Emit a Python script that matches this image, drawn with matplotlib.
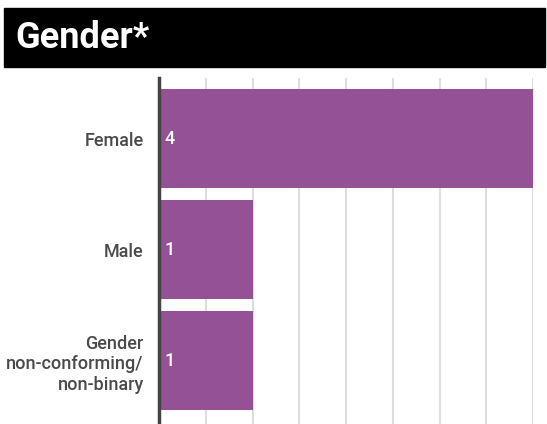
import matplotlib.pyplot as plt
from matplotlib.patches import Rectangle

categories = ["Female", "Male", "Gender\nnon-conforming/\nnon-binary"]
counts = [4, 1, 1]
title = "Gender*"

plt.rcParams['font.family'] = ['Roboto', 'DejaVu Sans']

fig = plt.figure(figsize=(5.47, 4.24), dpi=100)

# black title band
fig.patches.append(Rectangle((4 / 547, 1 - 67 / 424), 541 / 547, 59 / 424,
                             transform=fig.transFigure, color='black', zorder=0))
fig.text(15 / 547, 1 - 38 / 424, title, color='white', fontsize=26,
         fontweight='bold', va='center', ha='left')

ax = fig.add_axes([159 / 547, 0, (533 - 159) / 547, (424 - 78) / 424])
pos = list(range(len(categories)))
ax.barh(pos, counts, height=0.89, color='#955196', zorder=2)
for p, c in zip(pos, counts):
    ax.text(0.055, p, str(c), color='white', fontsize=13, fontweight='medium',
            va='center', ha='left', zorder=3)

ax.set_xlim(0, 4)
ax.set_ylim(2.568, -0.545)
ax.set_xticks([i * 0.5 for i in range(9)])
ax.set_xticklabels([])
ax.tick_params(axis='x', length=0)
ax.grid(axis='x', color='#dddddd', linewidth=1.5, zorder=1)
ax.set_yticks(pos)
ax.set_yticklabels(categories, fontsize=13, color='#4a4a4a', fontweight='medium',
                   linespacing=1.18)
ax.tick_params(axis='y', length=0, pad=11)
for s in ['top', 'right', 'bottom']:
    ax.spines[s].set_visible(False)
ax.spines['left'].set_color('#444444')
ax.spines['left'].set_linewidth(2.5)
ax.spines['left'].set_zorder(4)

fig.savefig('out.png', dpi=100)
